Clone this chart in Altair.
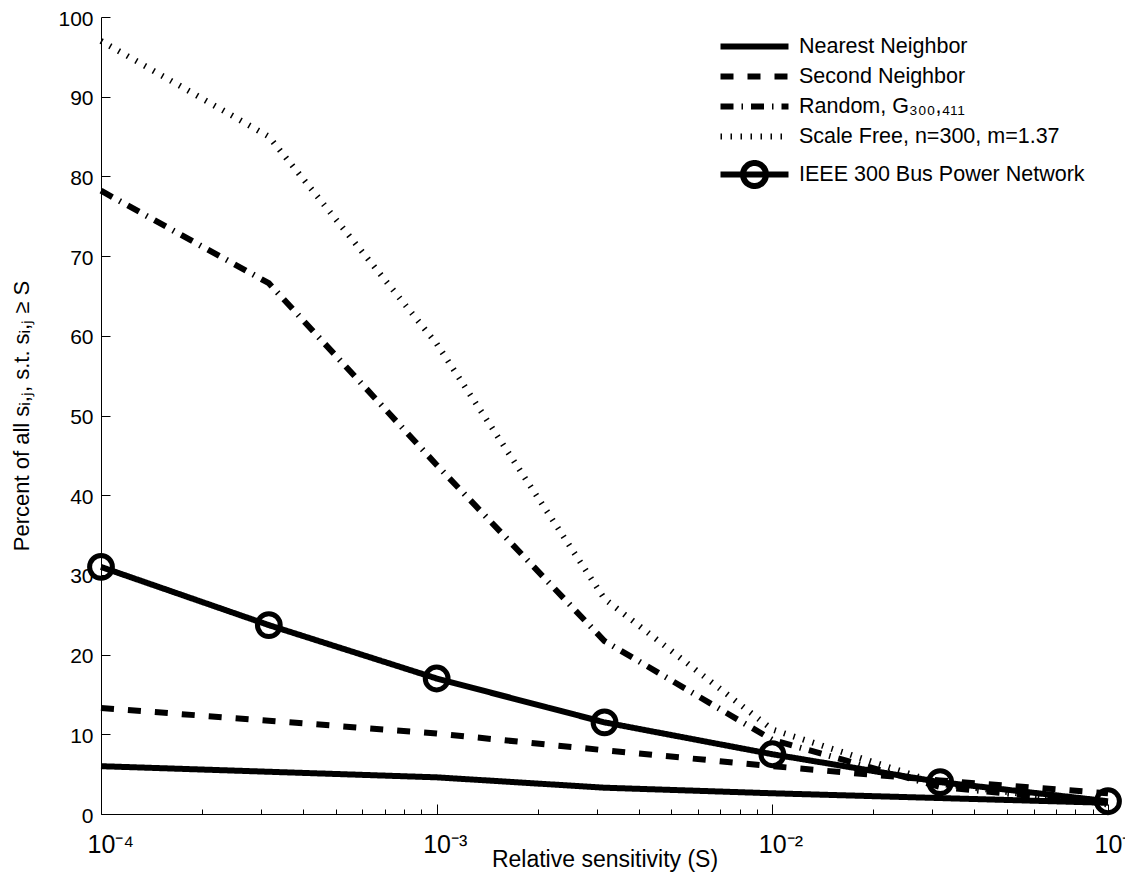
import json
import altair as alt
import pandas as pd

# ---- data ----
x_vals = [0.0001, 0.0003162, 0.001, 0.003162, 0.01, 0.03162, 0.1]
series_names = [
    "Nearest Neighbor",
    "Second Neighbor",
    "Random, G₃₀₀,₄₁₁",
    "Scale Free, n=300, m=1.37",
    "IEEE 300 Bus Power Network",
]
nearest = [6.0, 5.3, 4.6, 3.3, 2.6, 2.0, 1.4]
second = [13.3, 11.7, 10.1, 8.0, 6.0, 4.2, 2.6]
random_g = [78.2, 66.6, 43.8, 21.7, 9.3, 3.4, 1.3]
scale_free = [97.0, 85.0, 59.0, 27.0, 10.6, 3.8, 1.2]
ieee = [31.0, 23.7, 17.0, 11.5, 7.5, 4.0, 1.6]

x_major_ticks = [0.0001, 0.001, 0.01, 0.1]
x_major_labels = ["10⁻⁴", "10⁻³", "10⁻²", "10⁻¹"]
x_minor_ticks = [k * m for m in (0.0001, 0.001, 0.01) for k in range(2, 10)]
y_ticks = [0, 10, 20, 30, 40, 50, 60, 70, 80, 90, 100]

# ---- styles ----
FONT = "Liberation Sans"
W, H = 1007, 797
dash_range = [[1, 0], [13, 14], [13, 8, 1.5, 8], [1.5, 8.5], [1, 0]]
# legend symbol paths (unit = half of sqrt(symbolSize) = 12.5 px)
stroke_path = "M-2.72,0L2.72,0"
ieee_legend_path = ("M-2.72,0L2.72,0M0.92,0A0.92,0.92,0,1,1,-0.92,0"
                    "A0.92,0.92,0,1,1,0.92,0")
shape_range = [stroke_path, stroke_path, stroke_path, stroke_path, ieee_legend_path]

rows = []
for name, vals in zip(series_names, [nearest, second, random_g, scale_free, ieee]):
    for xv, yv in zip(x_vals, vals):
        rows.append({"series": name, "x": xv, "y": yv})
df = pd.DataFrame(rows)
df_ieee = df[df["series"] == series_names[4]]

xscale = alt.Scale(type="log", domain=[x_major_ticks[0], x_major_ticks[-1]], nice=False)
yscale = alt.Scale(domain=[0, 100], nice=False, zero=True)
dash_scale = alt.Scale(domain=series_names, range=dash_range)
shape_scale = alt.Scale(domain=series_names, range=shape_range)

label_expr = (json.dumps(x_major_labels, ensure_ascii=False)
              + "[round(log(datum.value)/LN10) + 4]")

legend = alt.Legend(
    title=None, orient="none", legendX=638, legendY=14, padding=0,
    symbolSize=625, symbolStrokeWidth=6, symbolStrokeColor="black",
    symbolFillColor="transparent", symbolOpacity=1,
    labelFont=FONT, labelFontSize=21.5, labelColor="black", labelOffset=29,
    labelLimit=500, rowPadding=2,
)

lines = alt.Chart(df).mark_line(strokeWidth=6, color="black").encode(
    x=alt.X("x:Q", scale=xscale, axis=alt.Axis(
        orient="bottom", values=x_major_ticks, labelExpr=label_expr,
        ticks=False, grid=False, domainColor="black", domainWidth=1,
        labelFont=FONT, labelFontSize=25, labelColor="black", labelPadding=18,
        labelAlign="left", labelOffset=-14,
        labelFlush=False, labelOverlap=False,
        title="Relative sensitivity (S)", titleFont=FONT, titleFontSize=23,
        titleFontWeight="normal", titleColor="black", titlePadding=-9)),
    y=alt.Y("y:Q", scale=yscale, axis=alt.Axis(
        orient="left", values=y_ticks, ticks=False, grid=False,
        domainColor="black", domainWidth=1,
        labelFont=FONT, labelFontSize=21, labelColor="black", labelPadding=8,
        labelOffset=2, labelFlush=False, labelOverlap=False,
        title="Percent of all sᵢ,ⱼ, s.t. sᵢ,ⱼ ≥ S", titleFont=FONT,
        titleFontSize=22, titleFontWeight="normal", titleColor="black",
        titlePadding=24)),
    strokeDash=alt.StrokeDash("series:N", scale=dash_scale, legend=legend),
)

points = alt.Chart(df_ieee).mark_point(
    shape="circle", size=520, filled=False, strokeWidth=5, color="black", opacity=1
).encode(
    x=alt.X("x:Q", scale=xscale, axis=None),
    y=alt.Y("y:Q", scale=yscale, axis=None),
)

legend_layer = alt.Chart(df).mark_point(
    filled=False, strokeWidth=6, color="black", opacity=0
).encode(
    x=alt.X("x:Q", scale=xscale, axis=None),
    y=alt.Y("y:Q", scale=yscale, axis=None),
    shape=alt.Shape("series:N", scale=shape_scale, legend=legend),
    strokeDash=alt.StrokeDash("series:N", scale=dash_scale, legend=legend),
)

major_ticks = alt.Chart(df).mark_point(opacity=0).encode(
    x=alt.X("x:Q", scale=xscale, axis=alt.Axis(
        orient="top", offset=-H, values=x_major_ticks, labels=False,
        domain=False, grid=False, tickSize=10, tickColor="black", tickWidth=1,
        title=None)),
    y=alt.Y("y:Q", scale=yscale, axis=alt.Axis(
        orient="right", offset=-W, values=y_ticks, labels=False,
        domain=False, grid=False, tickSize=9, tickColor="black", tickWidth=1,
        title=None)),
)

minor_ticks = alt.Chart(df).mark_point(opacity=0).encode(
    x=alt.X("x:Q", scale=xscale, axis=alt.Axis(
        orient="top", offset=-H, values=x_minor_ticks, labels=False,
        domain=False, grid=False, tickSize=5, tickColor="black", tickWidth=1,
        title=None)),
    y=alt.Y("y:Q", scale=yscale, axis=None),
)

chart = alt.layer(lines, points, legend_layer, major_ticks, minor_ticks).resolve_axis(
    x="independent", y="independent"
).properties(
    width=W, height=H,
    autosize=alt.AutoSizeParams(type="none"),
    padding={"left": 93, "top": 9, "right": 17, "bottom": 58},
    background="white",
).configure_view(stroke=None)

chart.save("out.html", embed_options={"renderer": "svg", "actions": False})
